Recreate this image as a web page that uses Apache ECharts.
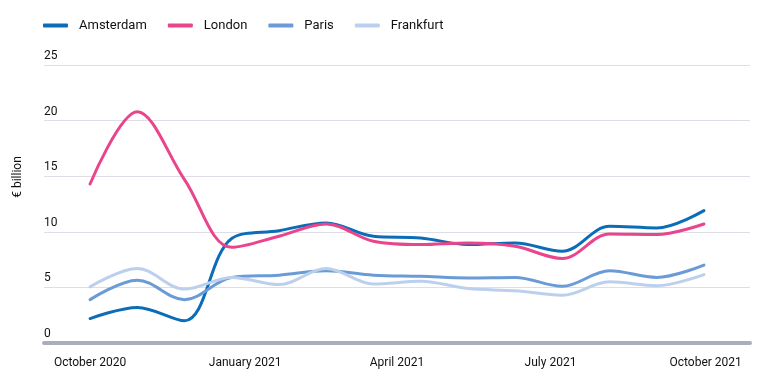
<!DOCTYPE html>
<html>
<head>
<meta charset="utf-8">
<script src="https://cdn.jsdelivr.net/npm/echarts@6/dist/echarts.min.js"></script>
<style>
  html, body { margin: 0; padding: 0; background: #fff; }
  #main { width: 764px; height: 377px; }
</style>
</head>
<body>
<div id="main"></div>
<script>
// 4-weekly observations
var dates = ['2020-10-01', '2020-10-29', '2020-11-26', '2020-12-24', '2021-01-21', '2021-02-18', '2021-03-18',
             '2021-04-15', '2021-05-13', '2021-06-10', '2021-07-08', '2021-08-05', '2021-09-02', '2021-09-30'];

var amsterdam = [2.2, 3.2, 2.0, 9.4, 10.1, 10.8, 9.6, 9.45, 8.85, 9.0, 8.25, 10.5, 10.35, 11.9];
var london    = [14.3, 20.8, 14.7, 8.6, 9.6, 10.7, 9.15, 8.85, 9.0, 8.7, 7.6, 9.8, 9.75, 10.7];
var paris     = [3.9, 5.65, 3.9, 5.9, 6.1, 6.5, 6.1, 6.0, 5.85, 5.9, 5.1, 6.5, 5.9, 7.0];
var frankfurt = [5.05, 6.7, 4.85, 5.9, 5.25, 6.7, 5.3, 5.55, 4.9, 4.7, 4.3, 5.5, 5.15, 6.15];

var tickDates  = ['2020-10-01', '2021-01-01', '2021-04-01', '2021-07-01', '2021-10-01'];
var tickLabels = ['October 2020', 'January 2021', 'April 2021', 'July 2021', 'October 2021'];

// days since first observation
var t0 = Date.parse(dates[0]);
function day(d) { return Math.round((Date.parse(d) - t0) / 86400000); }
var tickDays = tickDates.map(day);

function pairs(vals) {
  return vals.map(function (v, i) { return [day(dates[i]), v]; });
}

var chart = echarts.init(document.getElementById('main'));

var font = 'Roboto, "Noto Sans", sans-serif';

function line(name, color, vals) {
  return {
    name: name,
    type: 'line',
    smooth: 0.35,
    symbol: 'none',
    data: pairs(vals),
    lineStyle: { width: 3, color: color, cap: 'round' },
    itemStyle: { color: color }
  };
}

var option = {
  animation: false,
  textStyle: { fontFamily: font },
  legend: {
    left: 43,
    top: 19,
    padding: 0,
    icon: 'roundRect',
    itemWidth: 25,
    itemHeight: 4,
    itemGap: 21,
    textStyle: { fontSize: 13, color: '#111', padding: [0, 0, 0, 6] },
    data: ['Amsterdam', 'London', 'Paris', 'Frankfurt']
  },
  grid: { left: 44, right: 14, top: 65, bottom: 34 },
  graphic: [{
    type: 'text',
    x: 18, y: 177,
    rotation: Math.PI / 2,
    style: { text: '€ billion', fontSize: 12, fill: '#111', fontFamily: font, align: 'center', verticalAlign: 'middle' }
  }],
  xAxis: {
    type: 'value',
    min: -27.3,
    max: 391.3,
    splitLine: { show: false },
    axisTick: { show: false },
    axisLine: { show: true, lineStyle: { color: '#a9aeb8', width: 4 } },
    axisLabel: {
      customValues: tickDays,
      margin: 14,
      fontSize: 12,
      color: '#111',
      formatter: function (v) {
        var k = tickDays.indexOf(Math.round(v));
        return k >= 0 ? tickLabels[k] : '';
      }
    }
  },
  yAxis: {
    type: 'value',
    min: 0,
    max: 25,
    interval: 5,
    axisLine: { show: false },
    axisTick: { show: false },
    splitLine: { lineStyle: { color: '#dedee6', width: 1.2 } },
    axisLabel: {
      inside: true,
      margin: 0,
      verticalAlign: 'bottom',
      padding: [0, 0, 3, 0],
      fontSize: 12,
      color: '#111'
    }
  },
  series: [
    line('Amsterdam', '#0b6db7', amsterdam),
    line('London', '#e9448c', london),
    line('Paris', '#6b9bd6', paris),
    line('Frankfurt', '#bcd0ee', frankfurt)
  ]
};

chart.setOption(option);
</script>
</body>
</html>
